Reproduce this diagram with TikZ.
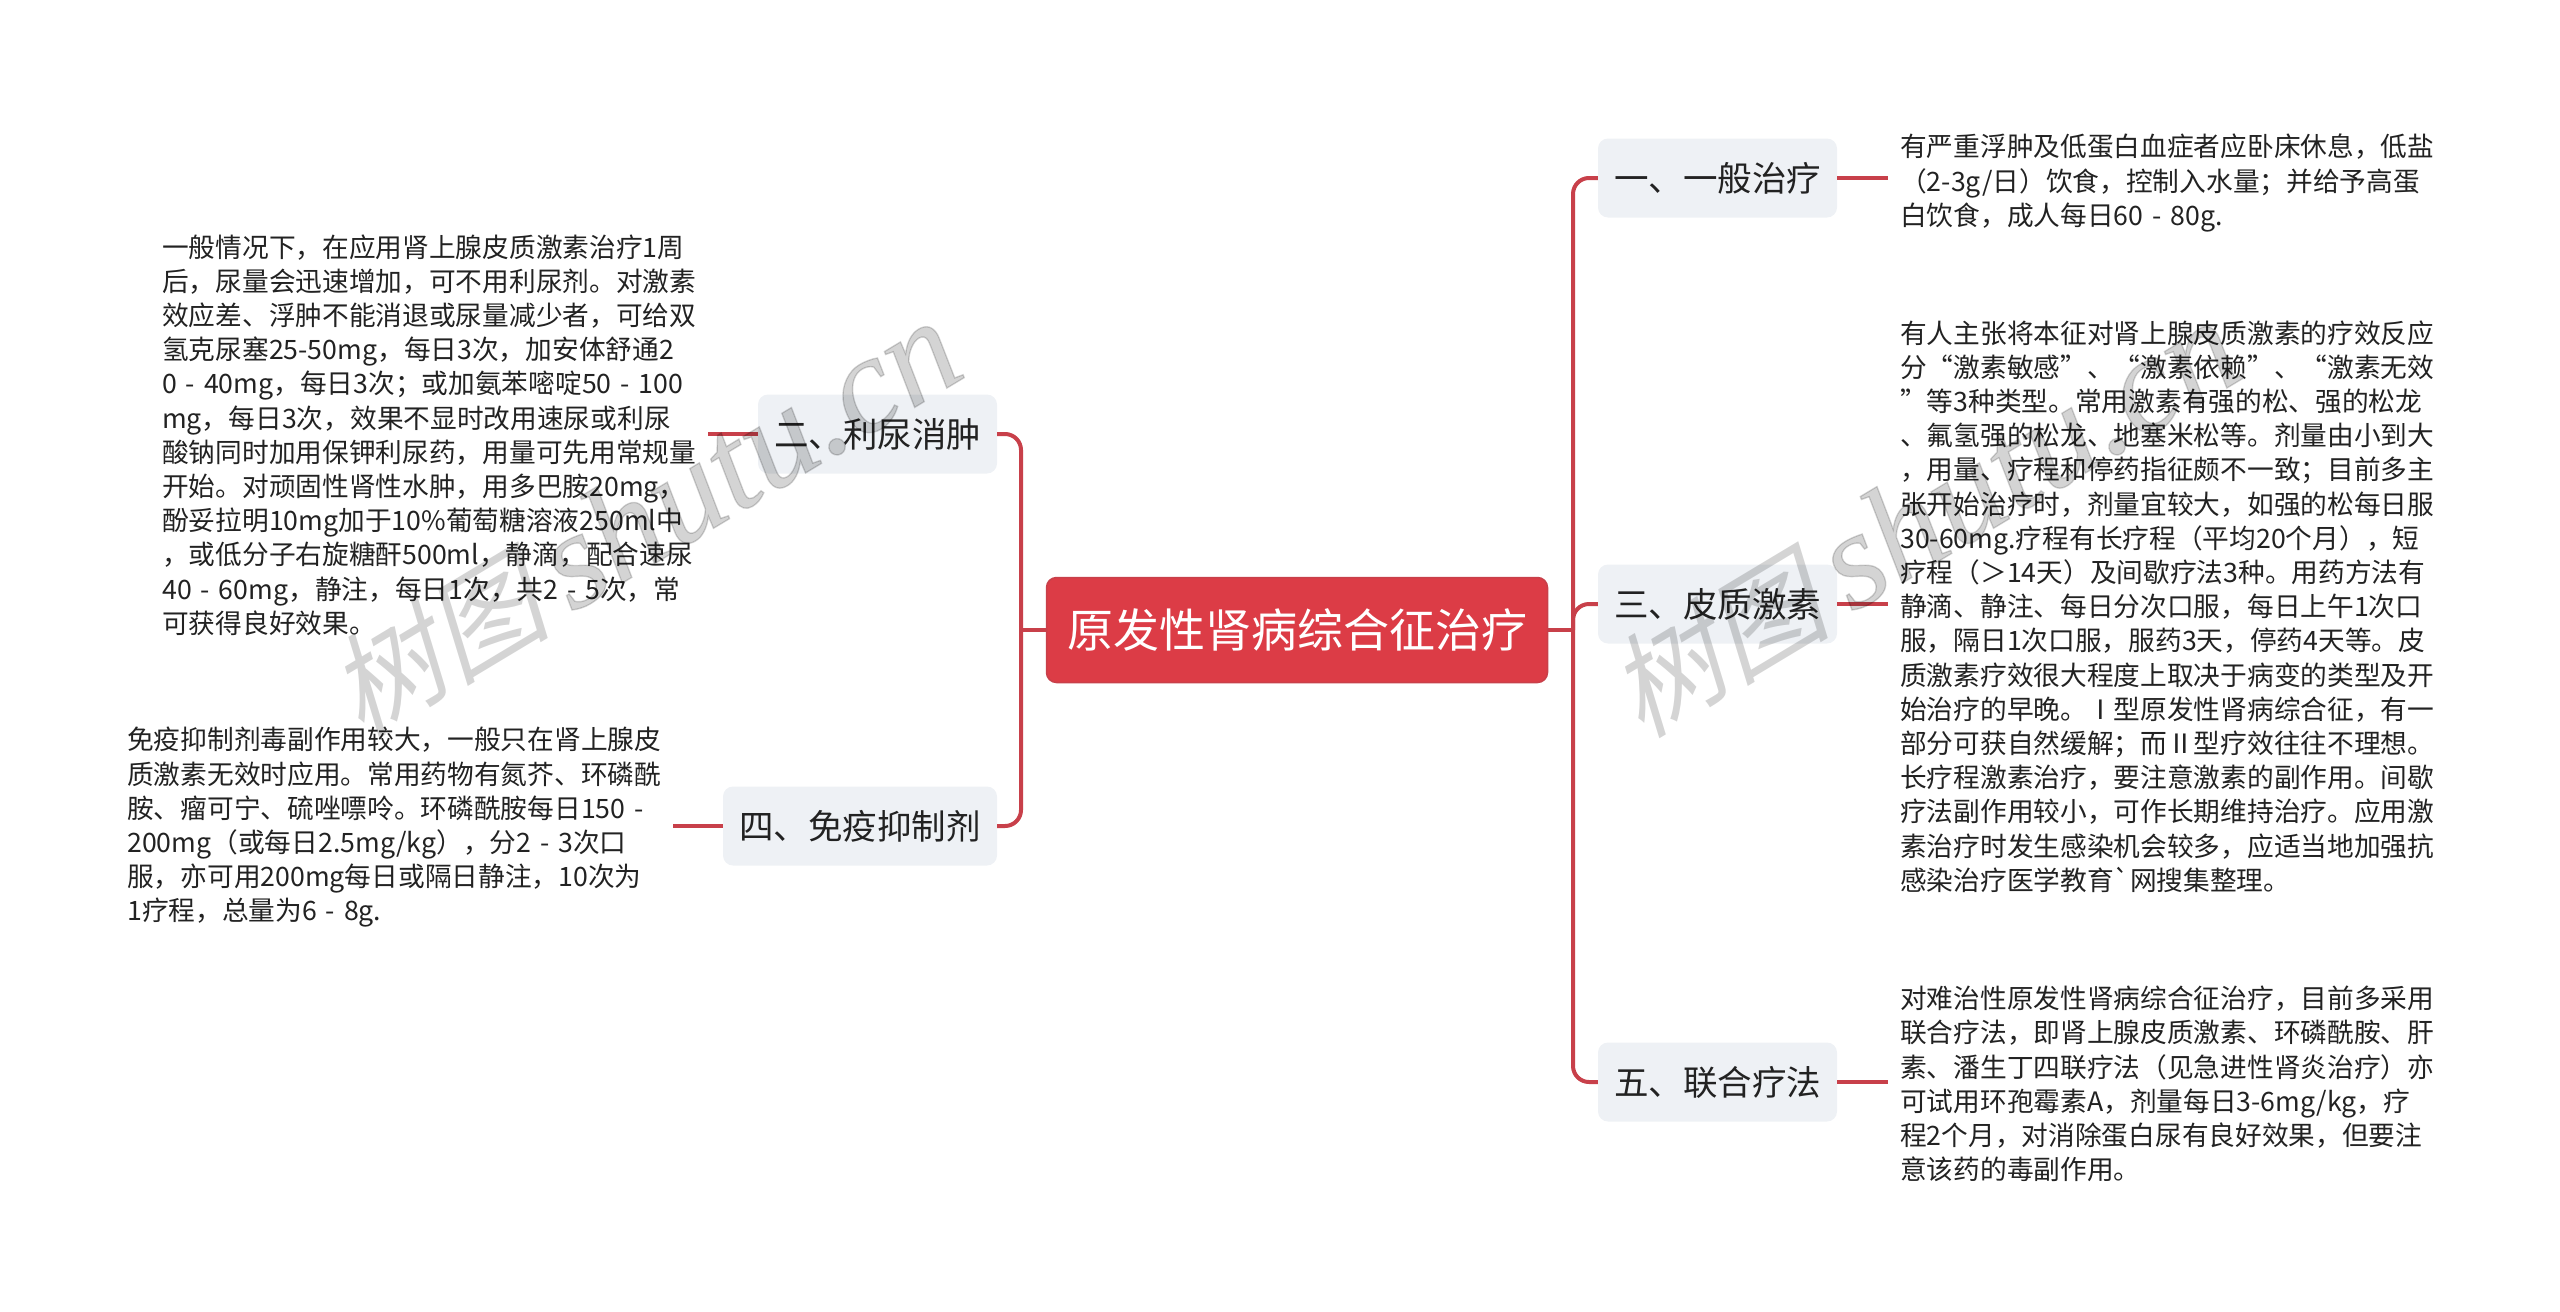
\documentclass[tikz,border=0pt]{standalone}
\usepackage{fontspec}
\newfontfamily\cjkfont{Noto Sans CJK SC}
\newfontfamily\stampcjk[FakeSlant=0.25]{Noto Sans CJK SC}
\newfontfamily\stamplatin[FakeBold=1]{Liberation Serif Italic}
\definecolor{rootred}{HTML}{DC3C46}
\definecolor{linkred}{HTML}{C8404A}
\definecolor{topicgray}{HTML}{EEF1F5}
\definecolor{inkgray}{HTML}{222222}
% full-width punctuation
\newcommand\dou{^^^^ff0c}
\newcommand\fen{^^^^ff1b}
\newcommand\zuo{^^^^ff08}
\newcommand\you{^^^^ff09}
\newcommand\dayu{^^^^ff1e}
\newcommand\stamptext{{\stampcjk\fontsize{112}{112}\selectfont 树图}\hspace{22pt}{\stamplatin\fontsize{138}{138}\selectfont shutu.cn}}
\tikzset{x=1pt,y=-1pt,
    rootbox/.style={draw=linkred,line width=1.5pt,fill=rootred,rounded corners=10pt,text=white,
        minimum width=501pt,minimum height=105pt,inner sep=0pt,font=\cjkfont\fontsize{46}{52}\selectfont},
    topicbox/.style={fill=topicgray,rounded corners=10pt,text=inkgray,
        minimum height=79pt,inner sep=0pt,font=\cjkfont\fontsize{34.5}{40}\selectfont},
    notebox/.style={anchor=west,align=left,text width=534pt,inner xsep=12pt,inner ysep=0pt,text=inkgray,
        font=\cjkfont\fontsize{26.7}{34.2}\selectfont},
    branch/.style={draw=linkred,line width=4pt,rounded corners=16pt},
    stamp/.style={rotate=31,text=black,text opacity=0.17,inner sep=0pt},
    }

\begin{document}
\begin{tikzpicture}
\useasboundingbox (0,0) rectangle (2560,1312);
\node[rootbox] (root) at (1297,630) {原发性肾病综合征治疗};
\coordinate (trunkL) at (1021,630);
\coordinate (trunkR) at (1573,630);

\node[topicbox,minimum width=239pt] (yiban) at (1717.5,178) {一、一般治疗};
\node[topicbox,minimum width=239pt] (pizhi) at (1717.5,604) {三、皮质激素};
\node[topicbox,minimum width=239pt] (lianhe) at (1717.5,1082) {五、联合疗法};
\node[topicbox,minimum width=239pt] (lini) at (877.5,434) {二、利尿消肿};
\node[topicbox,minimum width=274pt] (mianyi) at (860,826) {四、免疫抑制剂};

\node[notebox] (yibanT) at (1888,183) {%
有严重浮肿及低蛋白血症者应卧床休息\dou{}低盐\\
\zuo{}2-3g/日\you{}饮食\dou{}控制入水量\fen{}并给予高蛋\\
白饮食\dou{}成人每日60~-~80g.};
\node[notebox] (pizhiT) at (1888,606.5) {%
有人主张将本征对肾上腺皮质激素的疗效反应\\
分“激素敏感”、“激素依赖”、“激素无效\\
”等3种类型。常用激素有强的松、强的松龙\\
、氟氢强的松龙、地塞米松等。剂量由小到大\\
\dou{}用量、疗程和停药指征颇不一致\fen{}目前多主\\
张开始治疗时\dou{}剂量宜较大\dou{}如强的松每日服\\
30-60mg.疗程有长疗程\zuo{}平均20个月\you\dou{}短\\
疗程\zuo\dayu{}14天\you{}及间歇疗法3种。用药方法有\\
静滴、静注、每日分次口服\dou{}每日上午1次口\\
服\dou{}隔日1次口服\dou{}服药3天\dou{}停药4天等。皮\\
质激素疗效很大程度上取决于病变的类型及开\\
始治疗的早晚。Ⅰ型原发性肾病综合征\dou{}有一\\
部分可获自然缓解\fen{}而Ⅱ型疗效往往不理想。\\
长疗程激素治疗\dou{}要注意激素的副作用。间歇\\
疗法副作用较小\dou{}可作长期维持治疗。应用激\\
素治疗时发生感染机会较多\dou{}应适当地加强抗\\
感染治疗医学教育`网搜集整理。};
\node[notebox] (lianheT) at (1888,1084) {%
对难治性原发性肾病综合征治疗\dou{}目前多采用\\
联合疗法\dou{}即肾上腺皮质激素、环磷酰胺、肝\\
素、潘生丁四联疗法\zuo{}见急进性肾炎治疗\you{}亦\\
可试用环孢霉素A\dou{}剂量每日3-6mg/kg\dou{}疗\\
程2个月\dou{}对消除蛋白尿有良好效果\dou{}但要注\\
意该药的毒副作用。};
\node[notebox] (liniT) at (150,435) {%
一般情况下\dou{}在应用肾上腺皮质激素治疗1周\\
后\dou{}尿量会迅速增加\dou{}可不用利尿剂。对激素\\
效应差、浮肿不能消退或尿量减少者\dou{}可给双\\
氢克尿塞25-50mg\dou{}每日3次\dou{}加安体舒通2\\
0~-~40mg\dou{}每日3次\fen{}或加氨苯嘧啶50~-~100\\
mg\dou{}每日3次\dou{}效果不显时改用速尿或利尿\\
酸钠同时加用保钾利尿药\dou{}用量可先用常规量\\
开始。对顽固性肾性水肿\dou{}用多巴胺20mg\dou\\
酚妥拉明10mg加于10\%葡萄糖溶液250ml中\\
\dou{}或低分子右旋糖酐500ml\dou{}静滴\dou{}配合速尿\\
40~-~60mg\dou{}静注\dou{}每日1次\dou{}共2~-~5次\dou{}常\\
可获得良好效果。};
\node[notebox] (mianyiT) at (115,827.5) {%
免疫抑制剂毒副作用较大\dou{}一般只在肾上腺皮\\
质激素无效时应用。常用药物有氮芥、环磷酰\\
胺、瘤可宁、硫唑嘌呤。环磷酰胺每日150~-\\
200mg\zuo{}或每日2.5mg/kg\you\dou{}分2~-~3次口\\
服\dou{}亦可用200mg每日或隔日静注\dou{}10次为\\
1疗程\dou{}总量为6~-~8g.};

\draw[branch] (root.east) -- (trunkR);
\draw[branch] (root.west) -- (trunkL);
\draw[branch] (yiban.west) -| (trunkR) |- (lianhe.west);
\draw[branch] (pizhi.west) -| (trunkR);
\draw[branch] (lini.east) -| (trunkL) |- (mianyi.east);
\draw[branch] (yiban.east) -- (yiban.east -| yibanT.west);
\draw[branch] (pizhi.east) -- (pizhi.east -| pizhiT.west);
\draw[branch] (lianhe.east) -- (lianhe.east -| lianheT.west);
\draw[branch] (lini.west) -- (lini.west -| liniT.east);
\draw[branch] (mianyi.west) -- (mianyi.west -| mianyiT.east);

\node[stamp] (stampL) at (643,520) {\stamptext};
\node[stamp] (stampR) at (1923,520) {\stamptext};
\end{tikzpicture}
\end{document}
